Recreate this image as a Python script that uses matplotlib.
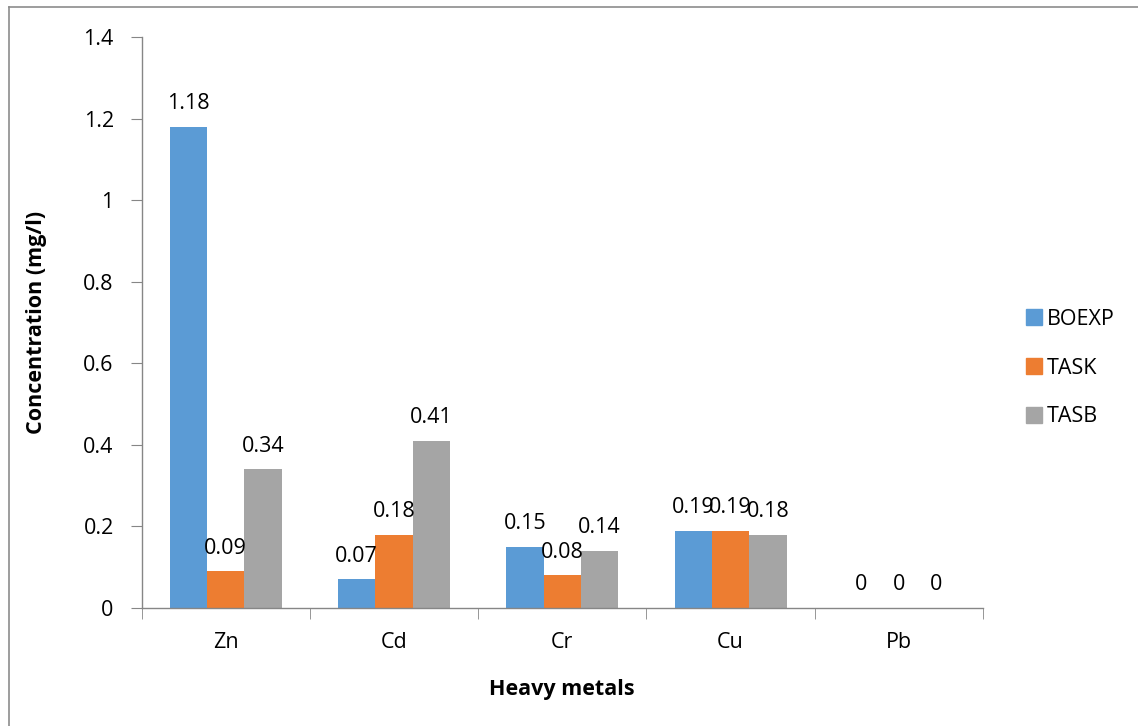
import numpy as np
import matplotlib.pyplot as plt
from matplotlib.lines import Line2D

metals = ['Zn', 'Cd', 'Cr', 'Cu', 'Pb']
series = ['BOEXP', 'TASK', 'TASB']
boexp = [1.18, 0.07, 0.15, 0.19, 0]
task = [0.09, 0.18, 0.08, 0.19, 0]
tasb = [0.34, 0.41, 0.14, 0.18, 0]
colors = ['#5B9BD5', '#ED7D31', '#A5A5A5']

plt.rcParams['font.family'] = ['Open Sans', 'DejaVu Sans']
fs = 15.5

W, H = 1138, 726
fig = plt.figure(figsize=(W / 100, H / 100), dpi=100)
# axes box in pixels: left 141.5, right 983, top 37, bottom 608
ax = fig.add_axes([141.5 / W, 1 - 608 / H, (983 - 141.5) / W, (608 - 37) / H])

x = np.arange(len(metals))
bw = 0.222
for i, (vals, name) in enumerate(zip([boexp, task, tasb], series)):
    pos = x + (i - 1) * bw
    ax.bar(pos, vals, width=bw, color=colors[i], label=name, zorder=2)
    for p, v in zip(pos, vals):
        ax.annotate(f'{v:g}', (p, v), xytext=(0, 9), textcoords='offset points',
                    ha='center', va='bottom', fontsize=fs)

ax.set_xlim(-0.5, 4.5)
ax.set_ylim(0, 1.4)
ax.set_yticks(np.arange(0, 1.41, 0.2))
ax.set_yticklabels(['0', '0.2', '0.4', '0.6', '0.8', '1', '1.2', '1.4'], fontsize=fs)
ax.set_xticks(x)
ax.set_xticklabels(metals, fontsize=fs)
ax.set_xticks(np.arange(-0.5, 5, 1), minor=True)
ax.tick_params(axis='x', which='major', length=0, pad=17)
ax.tick_params(axis='x', which='minor', length=8, color='#868686', direction='out')
ax.tick_params(axis='y', length=8, color='#868686', pad=12)

for s in ['top', 'right']:
    ax.spines[s].set_visible(False)
for s in ['left', 'bottom']:
    ax.spines[s].set_color('#868686')
    ax.spines[s].set_linewidth(1.0)

ax.set_xlabel('Heavy metals', fontsize=fs, fontweight='bold', labelpad=19)
ax.set_ylabel('Concentration (mg/l)', fontsize=fs, fontweight='bold', labelpad=26)

handles = [Line2D([0], [0], marker='s', linestyle='', markersize=11,
                  markerfacecolor=c, markeredgecolor=c) for c in colors]
fig.legend(handles, series, loc='center left', bbox_to_anchor=(1002 / W, 1 - 368 / H),
           frameon=False, fontsize=fs, handletextpad=0.0, labelspacing=1.3,
           handlelength=1.2)

# outer border (top and left only visible)
fig.add_artist(Line2D([9 / W, 9 / W], [0, 1 - 7 / H], transform=fig.transFigure,
                      color='#8C8C8C', lw=1.2))
fig.add_artist(Line2D([9 / W, 1], [1 - 7 / H, 1 - 7 / H], transform=fig.transFigure,
                      color='#8C8C8C', lw=1.2))

fig.savefig('out.png', dpi=100)
